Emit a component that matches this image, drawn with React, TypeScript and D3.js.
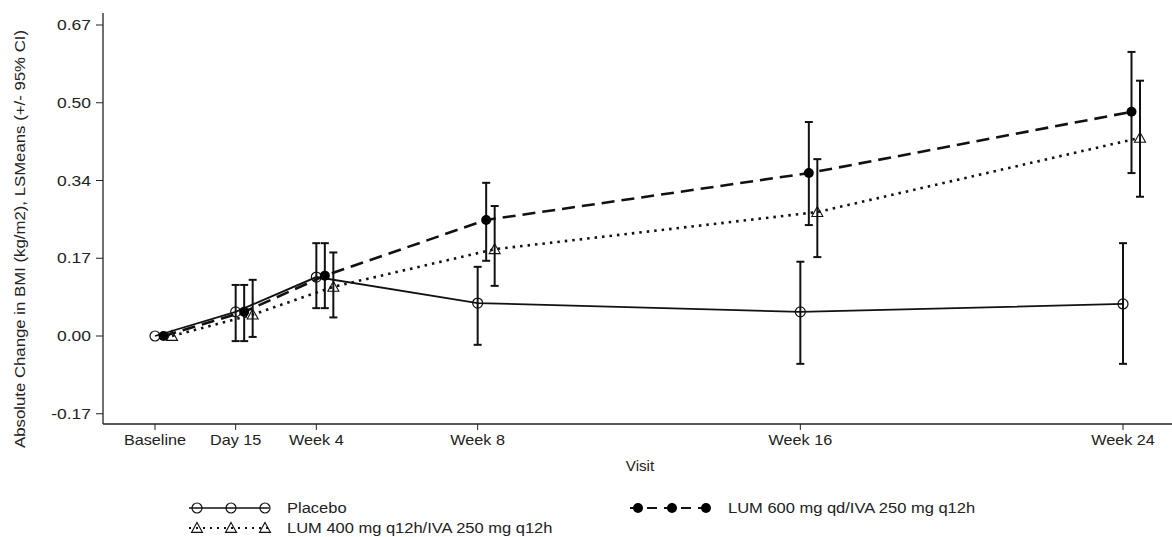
import React, { useRef, useEffect } from "react";
import * as d3 from "d3";

// visits, placed on a week scale
const visits = ["Baseline", "Day 15", "Week 4", "Week 8", "Week 16", "Week 24"];
const visitWeeks = [0, 2, 4, 8, 16, 24];

const yTickValues = [-0.1675, 0, 0.1675, 0.335, 0.5025, 0.67];
const yTickLabels = ["-0.17", "0.00", "0.17", "0.34", "0.50", "0.67"];

const placeboMean = [0, 0.052, 0.127, 0.071, 0.052, 0.069];
const placeboLo = [null, -0.011, 0.06, -0.019, -0.06, -0.06];
const placeboHi = [null, 0.11, 0.2, 0.149, 0.16, 0.2];

const lum600Mean = [0, 0.052, 0.13, 0.25, 0.351, 0.483];
const lum600Lo = [null, -0.011, 0.06, 0.162, 0.239, 0.351];
const lum600Hi = [null, 0.11, 0.2, 0.33, 0.461, 0.612];

const lum400Mean = [0, 0.046, 0.106, 0.187, 0.267, 0.427];
const lum400Lo = [null, -0.002, 0.04, 0.108, 0.17, 0.3];
const lum400Hi = [null, 0.121, 0.18, 0.28, 0.381, 0.55];

const seriesNames = ["Placebo", "LUM 600 mg qd/IVA 250 mg q12h", "LUM 400 mg q12h/IVA 250 mg q12h"];

const FONT = "'Liberation Sans', Arial, sans-serif";

const App = () => {
  const svgRef = useRef(null);

  useEffect(() => {
    const svg = d3.select(svgRef.current);
    svg.selectAll("*").remove();
    const width = 1172;
    const height = 537;
    svg.attr("width", width).attr("height", height);

    const x = d3.scaleLinear().domain([0, 24]).range([155, 1123]);
    const y = d3.scaleLinear().domain([0, 0.67]).range([336, 25]);
    const axisX = 103;
    const axisY = 424;

    const series = [
      { name: seriesNames[0], mean: placeboMean, lo: placeboLo, hi: placeboHi, shift: 0, dash: null, lw: 1.8, marker: "circle" },
      { name: seriesNames[1], mean: lum600Mean, lo: lum600Lo, hi: lum600Hi, shift: 8.5, dash: "13,7", lw: 2.6, marker: "dot" },
      { name: seriesNames[2], mean: lum400Mean, lo: lum400Lo, hi: lum400Hi, shift: 17, dash: "2.5,5", lw: 2.6, marker: "triangle" },
    ];

    // axes
    svg.append("line")
      .attr("x1", axisX).attr("x2", axisX).attr("y1", 13).attr("y2", axisY)
      .attr("stroke", "#222").attr("stroke-width", 1.3);
    svg.append("line")
      .attr("x1", axisX).attr("x2", width).attr("y1", axisY).attr("y2", axisY)
      .attr("stroke", "#222").attr("stroke-width", 1.6);

    const yt = svg.append("g");
    yTickValues.forEach((v, i) => {
      yt.append("line")
        .attr("x1", 96).attr("x2", axisX).attr("y1", y(v)).attr("y2", y(v))
        .attr("stroke", "#222").attr("stroke-width", 1);
      yt.append("text")
        .attr("transform", `translate(91,${y(v) + 5}) scale(1.25,1)`)
        .attr("text-anchor", "end")
        .style("font-family", FONT).style("font-size", "14px").style("fill", "#222")
        .text(yTickLabels[i]);
    });

    const xt = svg.append("g");
    visitWeeks.forEach((w, i) => {
      xt.append("line")
        .attr("x1", x(w)).attr("x2", x(w)).attr("y1", axisY).attr("y2", axisY + 6)
        .attr("stroke", "#222").attr("stroke-width", 1);
      xt.append("text")
        .attr("transform", `translate(${x(w)},445) scale(1.08,1)`)
        .attr("text-anchor", "middle")
        .style("font-family", FONT).style("font-size", "15px").style("fill", "#222")
        .text(visits[i]);
    });

    svg.append("text")
      .attr("transform", "translate(640,471) scale(1.08,1)")
      .attr("text-anchor", "middle")
      .style("font-family", FONT).style("font-size", "14px").style("fill", "#222")
      .text("Visit");

    svg.append("text")
      .attr("transform", "translate(25,239) rotate(-90)")
      .attr("text-anchor", "middle")
      .attr("textLength", 418)
      .attr("lengthAdjust", "spacingAndGlyphs")
      .style("font-family", FONT).style("font-size", "14px").style("fill", "#222")
      .text("Absolute Change in BMI (kg/m2), LSMeans (+/- 95% CI)");

    const drawMarker = (g, kind, cx, cy) => {
      if (kind === "circle") {
        g.append("circle").attr("cx", cx).attr("cy", cy).attr("r", 5)
          .attr("fill", "none").attr("stroke", "#111").attr("stroke-width", 1.2);
      } else if (kind === "dot") {
        g.append("circle").attr("cx", cx).attr("cy", cy).attr("r", 5)
          .attr("fill", "#000");
      } else {
        const s = 5.5;
        g.append("path")
          .attr("d", `M${cx},${cy - s}L${cx + s},${cy + s * 0.8}L${cx - s},${cy + s * 0.8}Z`)
          .attr("fill", "none").attr("stroke", "#111").attr("stroke-width", 1.1);
      }
    };

    const plot = svg.append("g");
    series.forEach((s) => {
      const pts = visitWeeks.map((w, i) => [x(w) + s.shift, y(s.mean[i])]);
      const line = d3.line();
      const path = plot.append("path")
        .attr("d", line(pts))
        .attr("fill", "none")
        .attr("stroke", "#111")
        .attr("stroke-width", s.lw);
      if (s.dash) path.attr("stroke-dasharray", s.dash);

      // error bars
      visitWeeks.forEach((w, i) => {
        if (s.lo[i] == null) return;
        const cx = x(w) + s.shift;
        const bar = plot.append("g").attr("stroke", "#111").attr("stroke-width", 2);
        bar.append("line").attr("x1", cx).attr("x2", cx).attr("y1", y(s.hi[i])).attr("y2", y(s.lo[i]));
        bar.append("line").attr("x1", cx - 4).attr("x2", cx + 4).attr("y1", y(s.hi[i])).attr("y2", y(s.hi[i]));
        bar.append("line").attr("x1", cx - 4).attr("x2", cx + 4).attr("y1", y(s.lo[i])).attr("y2", y(s.lo[i]));
      });

      pts.forEach(([cx, cy]) => drawMarker(plot, s.marker, cx, cy));
    });

    // legend
    const legend = svg.append("g");
    const legendItems = [
      { s: series[0], x0: 189, y0: 508 },
      { s: series[1], x0: 630, y0: 508 },
      { s: series[2], x0: 189, y0: 528 },
    ];
    legendItems.forEach(({ s, x0, y0 }) => {
      const xs = [x0 + 8, x0 + 42, x0 + 76];
      const ln = legend.append("line")
        .attr("x1", x0).attr("x2", x0 + 80).attr("y1", y0).attr("y2", y0)
        .attr("stroke", "#111").attr("stroke-width", s.marker === "circle" ? 1.3 : 2);
      if (s.dash) ln.attr("stroke-dasharray", s.marker === "dot" ? "10,7" : "2,5");
      xs.forEach((cx) => drawMarker(legend, s.marker, cx, y0));
      legend.append("text")
        .attr("transform", `translate(${x0 + 98},${y0 + 5}) scale(1.1,1)`)
        .style("font-family", FONT).style("font-size", "15px").style("fill", "#222")
        .text(s.name);
    });
  }, []);

  return <svg ref={svgRef} style={{ position: "absolute", left: 0, top: 0, background: "#fff" }}></svg>;
};

export default App;
